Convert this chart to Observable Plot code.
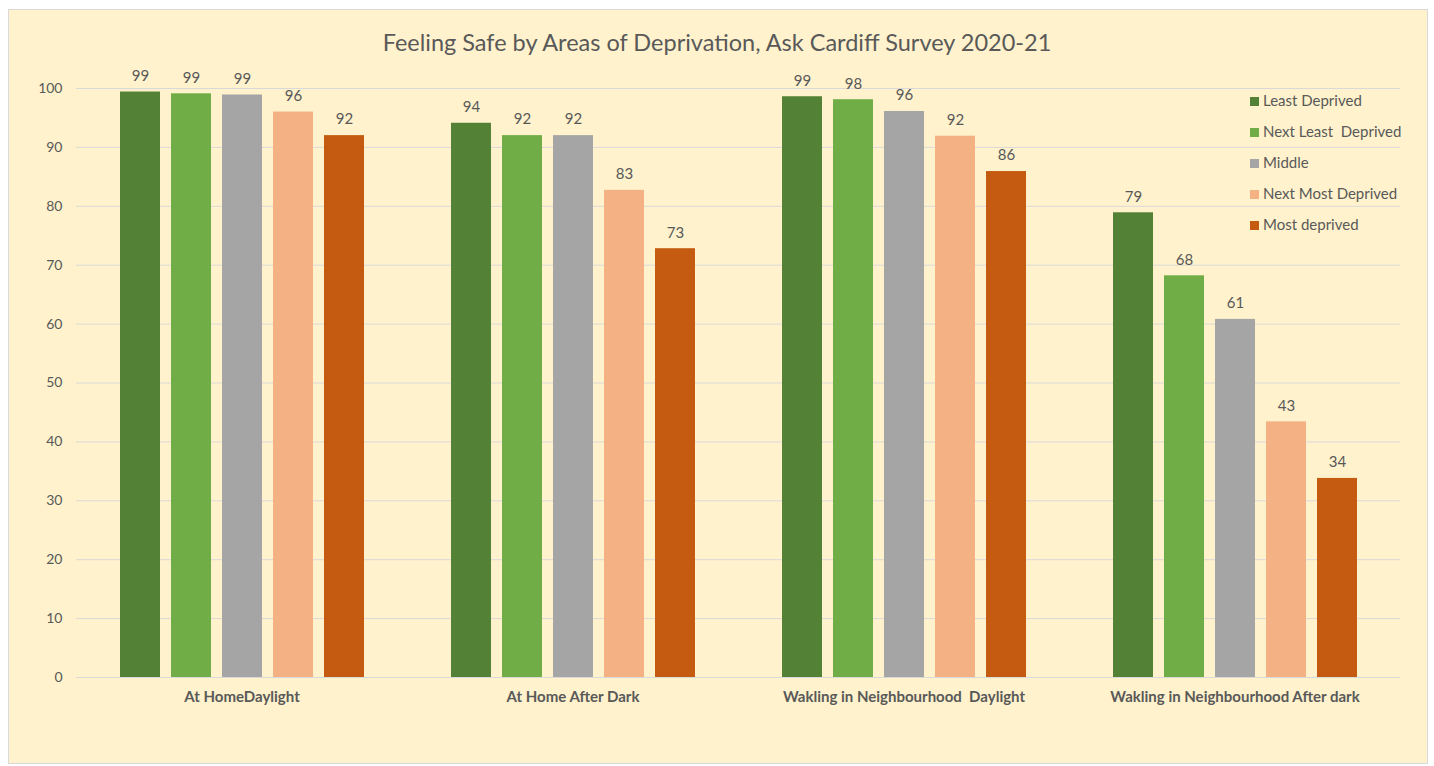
<!DOCTYPE html>
<html><head><meta charset="utf-8">
<script src="https://cdn.jsdelivr.net/npm/d3@7"></script>
<script src="https://cdn.jsdelivr.net/npm/@observablehq/plot@0.6"></script>
<style>
body{margin:0;background:#fff;font-family:Lato,"Open Sans",sans-serif;}
#frame{position:absolute;left:8px;top:9px;width:1418px;height:753px;background:#FFF2CC;border:1px solid #D9D9D9;}
#title{position:absolute;left:0;top:29px;width:1434px;text-align:center;font-size:23.5px;line-height:26px;color:#595959;}
#chart{position:absolute;left:0;top:60px;}
#legend{position:absolute;left:1250px;top:90px;font-size:15px;color:#595959;}
.item{height:31px;line-height:20px;white-space:pre;}
.sw{display:inline-block;width:9px;height:9px;margin-right:4px;vertical-align:0px;}
svg text{white-space:pre;}
</style>
</head><body>
<div id="frame"></div>
<div id="title">Feeling Safe by Areas of Deprivation, Ask Cardiff Survey 2020-21</div>
<div id="chart"></div>
<div id="legend"></div>
<script>
const categories = ["At HomeDaylight", "At Home After Dark", "Wakling in Neighbourhood  Daylight", "Wakling in Neighbourhood After dark"];
const series = ["Least Deprived", "Next Least  Deprived", "Middle", "Next Most Deprived", "Most deprived"];
const colors = ["#538135", "#70AD47", "#A5A5A5", "#F4B183", "#C55A11"];
const leastDeprived = [99.4, 94.1, 98.6, 78.9];
const nextLeastDeprived = [99.1, 92.0, 98.1, 68.2];
const middle = [98.9, 92.0, 96.1, 60.8];
const nextMostDeprived = [96.0, 82.7, 91.9, 43.4];
const mostDeprived = [92.0, 72.8, 85.9, 33.8];
const yTicks = [0, 10, 20, 30, 40, 50, 60, 70, 80, 90, 100];

const seriesValues = [leastDeprived, nextLeastDeprived, middle, nextMostDeprived, mostDeprived];
const table = [];
categories.forEach((c, i) => series.forEach((s, j) => table.push({category: c, series: s, value: seriesValues[j][i]})));

const chart = Plot.plot({
  width: 1434, height: 680,
  marginLeft: 74, marginRight: 33, marginTop: 28, marginBottom: 63,
  style: {background: "transparent", color: "#595959", fontFamily: "Lato, 'Open Sans', sans-serif", fontSize: "14px"},
  fx: {domain: categories, padding: 0, label: null},
  x: {domain: series, axis: null, paddingInner: 0.22, paddingOuter: 0.845},
  y: {domain: [0, 100], label: null},
  color: {domain: series, range: colors},
  marks: [
    Plot.gridY(yTicks, {stroke: "#D9D9D9", strokeOpacity: 1}),
    Plot.axisY(yTicks, {tickSize: 0, tickPadding: 14, fontSize: 14, label: null}),
    Plot.axisFx({anchor: "bottom", tickSize: 0, tickPadding: 14, fontSize: 15, fontWeight: "bold", label: null}),
    Plot.barY(table, {fx: "category", x: "series", y: "value", fill: "series"}),
    Plot.text(table, {fx: "category", x: "series", y: "value", text: d => String(Math.round(d.value)), dy: -16, fill: "#595959", fontSize: 15})
  ]
});
document.getElementById("chart").appendChild(chart);

const legend = document.getElementById("legend");
series.forEach((s, i) => {
  const row = document.createElement("div");
  row.className = "item";
  const sw = document.createElement("span");
  sw.className = "sw";
  sw.style.background = colors[i];
  row.appendChild(sw);
  row.appendChild(document.createTextNode(s));
  legend.appendChild(row);
});
</script>
</body></html>
